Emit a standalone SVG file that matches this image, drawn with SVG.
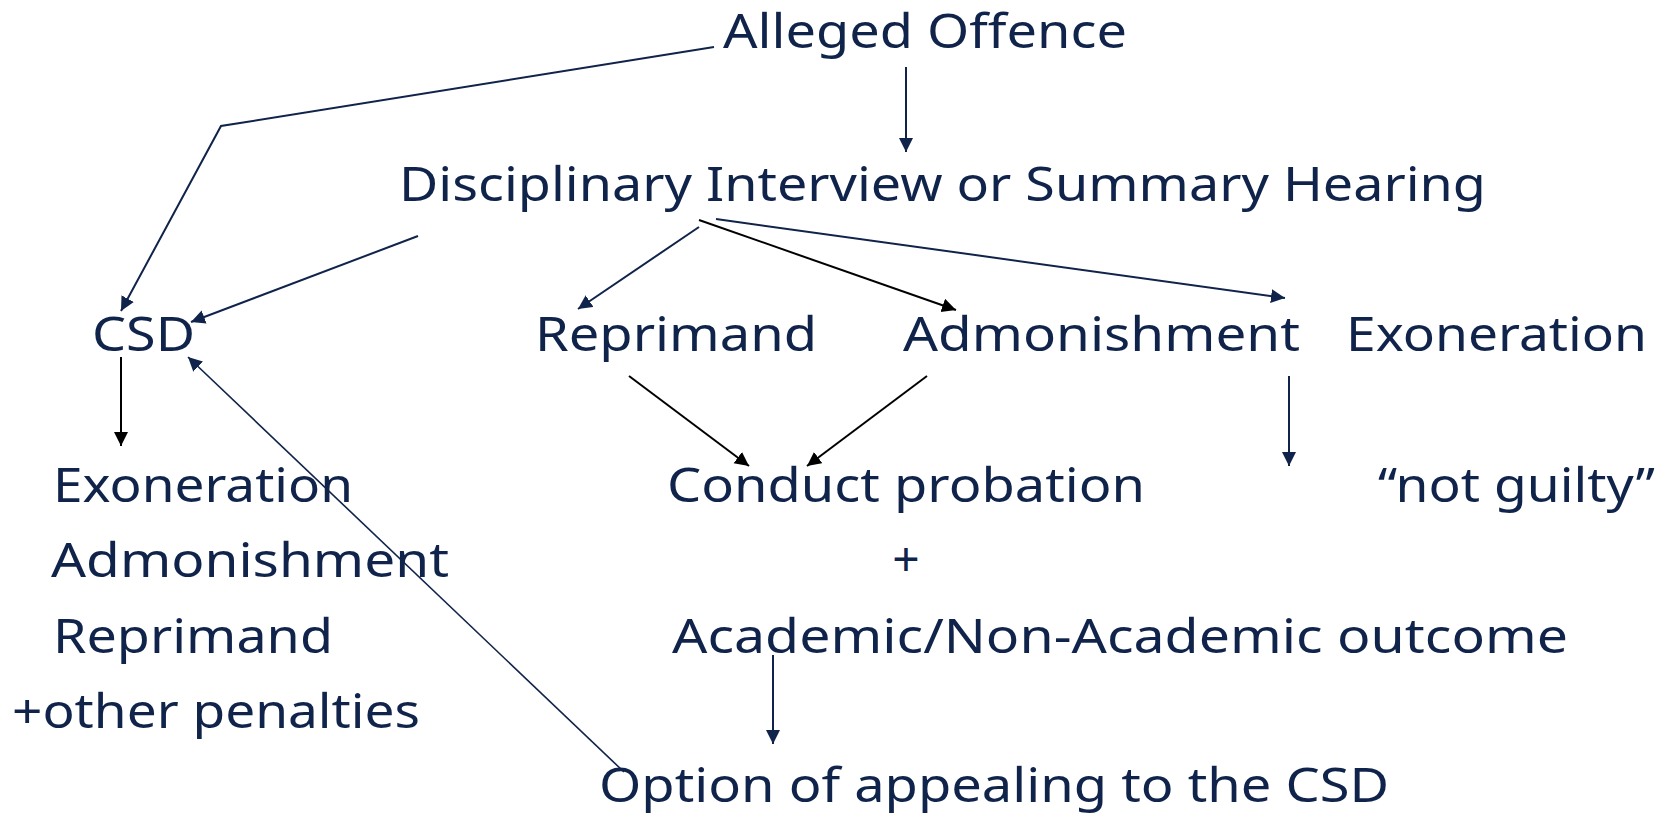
<svg xmlns="http://www.w3.org/2000/svg" width="1673" height="813" viewBox="0 0 1673 813">
<style>
text{font-family:"Noto Sans","Open Sans","Liberation Sans",sans-serif;font-size:48px;fill:#10234a}
.n{stroke:#10234a;stroke-width:2;fill:none}
.b{stroke:#000;stroke-width:2;fill:none}
.t{stroke:#10234a;stroke-width:1.6;fill:none}
</style>
<defs>
<marker id="an" markerUnits="userSpaceOnUse" markerWidth="15" markerHeight="15" refX="14" refY="7" orient="auto"><path d="M0,0 L14,7 L0,14 z" fill="#10234a"/></marker>
<marker id="ab" markerUnits="userSpaceOnUse" markerWidth="15" markerHeight="15" refX="14" refY="7" orient="auto"><path d="M0,0 L14,7 L0,14 z" fill="#000"/></marker>
</defs>
<rect width="1673" height="813" fill="#fff"/>
<g id="connectors">
<polyline class="n" points="714,47 221,126 121,311" marker-end="url(#an)"/>
<line class="n" x1="906" y1="67" x2="906" y2="152" marker-end="url(#an)"/>
<line class="n" x1="418" y1="236" x2="191" y2="322" marker-end="url(#an)"/>
<line class="n" x1="699" y1="227" x2="578" y2="309" marker-end="url(#an)"/>
<line class="b" x1="699" y1="220" x2="956" y2="310" marker-end="url(#ab)"/>
<line class="n" x1="716" y1="219" x2="1285" y2="298" marker-end="url(#an)"/>
<line class="b" x1="121" y1="357" x2="121" y2="446" marker-end="url(#ab)"/>
<line class="t" x1="624" y1="772" x2="188" y2="357" marker-end="url(#an)"/>
<line class="b" x1="629" y1="376" x2="749" y2="466" marker-end="url(#ab)"/>
<line class="b" x1="927" y1="376" x2="807" y2="466" marker-end="url(#ab)"/>
<line class="n" x1="1289" y1="376" x2="1289" y2="466" marker-end="url(#an)"/>
<line class="n" x1="773" y1="655" x2="773" y2="744" marker-end="url(#an)"/>
</g>
<g id="alleged"><text x="723" y="48" textLength="404" lengthAdjust="spacingAndGlyphs">Alleged Offence</text></g>
<g id="disciplinary"><text x="399" y="201" textLength="1087" lengthAdjust="spacingAndGlyphs">Disciplinary Interview or Summary Hearing</text></g>
<g id="csd"><text x="92" y="351" textLength="103" lengthAdjust="spacingAndGlyphs">CSD</text></g>
<g id="reprimand"><text x="535" y="351" textLength="282" lengthAdjust="spacingAndGlyphs">Reprimand</text></g>
<g id="admonishment"><text x="903" y="351" textLength="397" lengthAdjust="spacingAndGlyphs">Admonishment</text></g>
<g id="exoneration"><text x="1346" y="351" textLength="301" lengthAdjust="spacingAndGlyphs">Exoneration</text></g>
<g id="csd-outcomes">
<text x="53" y="502" textLength="300" lengthAdjust="spacingAndGlyphs">Exoneration</text>
<text x="51" y="577" textLength="398" lengthAdjust="spacingAndGlyphs">Admonishment</text>
<text x="53" y="653" textLength="280" lengthAdjust="spacingAndGlyphs">Reprimand</text>
<text x="12" y="728" textLength="408" lengthAdjust="spacingAndGlyphs">+other penalties</text>
</g>
<g id="conduct">
<text x="667" y="502" textLength="478" lengthAdjust="spacingAndGlyphs">Conduct probation</text>
<text x="906" y="576" text-anchor="middle">+</text>
<text x="672" y="653" textLength="896" lengthAdjust="spacingAndGlyphs">Academic/Non-Academic outcome</text>
</g>
<g id="not-guilty"><text x="1378" y="502" textLength="277" lengthAdjust="spacingAndGlyphs">“not guilty”</text></g>
<g id="appeal"><text x="599" y="802" textLength="790" lengthAdjust="spacingAndGlyphs">Option of appealing to the CSD</text></g>
</svg>
